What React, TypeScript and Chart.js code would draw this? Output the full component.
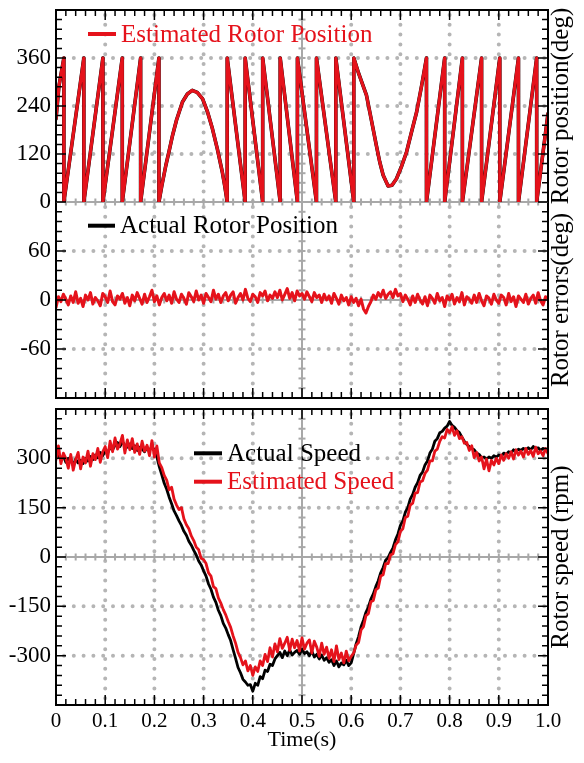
import React, { useEffect, useRef } from 'react';
import { Chart, registerables } from 'chart.js';

Chart.register(...registerables);

const SERIF = '"Liberation Serif", "Times New Roman", Times, serif';
const RED = '#e5121b';
const BLACK = '#000000';
const GRID = '#b5b5b5';
const ZERO = '#a8a8a8';

// ---- ticks ----
const timeTicks = [0, 0.1, 0.2, 0.3, 0.4, 0.5, 0.6, 0.7, 0.8, 0.9, 1.0];
const timeTickLabels = ['0', '0.1', '0.2', '0.3', '0.4', '0.5', '0.6', '0.7', '0.8', '0.9', '1.0'];
const positionTicks = [0, 120, 240, 360];
const errorTicks = [-60, 0, 60];
const speedTicks = [-300, -150, 0, 150, 300];

// ---- rotor position (deg), vertices ----
const positionTimes = [0, 0.006, 0.016, 0.016, 0.0566, 0.0566, 0.0953, 0.0953, 0.1347, 0.1347, 0.172, 0.172, 0.2092, 0.2092,
  0.215, 0.223, 0.23, 0.237, 0.245, 0.257, 0.267, 0.277, 0.287, 0.298, 0.308, 0.318, 0.328, 0.338, 0.343, 0.348,
  0.348, 0.3845, 0.3845, 0.4201, 0.4201, 0.4557, 0.4557, 0.4907, 0.4907, 0.5294, 0.5294, 0.5687, 0.5687, 0.6053, 0.6053,
  0.615, 0.631, 0.641, 0.651, 0.658, 0.665, 0.675, 0.683, 0.692, 0.702, 0.7125, 0.722, 0.733, 0.743, 0.753,
  0.753, 0.79, 0.79, 0.826, 0.826, 0.865, 0.865, 0.902, 0.902, 0.94, 0.94, 0.977, 0.977, 1.0];
const positionValues = [208, 290, 360, 0, 360, 0, 360, 0, 360, 0, 360, 0, 360, 0,
  40, 90, 128, 167, 205, 250, 270, 279, 274, 258, 225, 183, 132, 75, 40, 0,
  360, 0, 360, 0, 360, 0, 360, 0, 360, 0, 360, 0, 360, 0, 360,
  322, 267, 205, 142, 100, 67, 40, 42, 58, 88, 125, 172, 225, 290, 360,
  0, 360, 0, 360, 0, 360, 0, 360, 0, 360, 0, 360, 0, 221];

// ---- sampled signals, one value every 5 ms from 0 to 1 s ----
const sampleStep = 0.005;

const rotorErrors = [
  -9, 4, -2, 7, 1, -6, 5, -3, 10, -4,
  2, -8, 6, 0, 9, -5, 3, -1, -7, 8,
  4, -3, 11, -2, -6, 5, 1, 8, -4, 3,
  -7, 6, -1, 9, 2, -5, 7, -3, 4, 12,
  -2, 5, -6, 3, 8, -1, 6, -4, 10, 1,
  -3, 7, 2, -5, 9, 4, -2, 11, 0, 6,
  -4, 8, 3, -2, 12, 1, 7, -3, 5, 9,
  -1, 6, 10, -4, 3, 8, 0, 13, 2, -2,
  7, 4, -3, 9, 5, 11, -1, 6, 2, 10,
  3, 12, 0, 7, 14, 2, 9, -1, 11, 5,
  8, 1, 10, 4, -2, 9, 3, 6, -3, 7,
  0, 5, -4, 8, 2, -5, 6, -1, 3, -6,
  4, -3, 2, -7, 1, -11, -16, -8, -2, 6,
  1, 9, 4, 12, 2, 7, 10, 3, 13, 5,
  8, -2, 6, 1, -6, 5, -3, 7, 0, -5,
  4, -7, 6, 2, -4, 8, -1, 3, -8, 5,
  0, 7, -5, 3, -2, 9, -6, 4, 1, -4,
  6, -3, 8, -1, -7, 5, 2, -5, 7, 0,
  -4, 6, 3, -6, 8, -2, 4, -8, 5, 1,
  -3, 7, -5, 2, 6, -4, 9, -1, -6, 4,
  2];

const actualSpeed = [
  318, 306, 296, 308, 288, 300, 292, 281, 297, 286,
  294, 284, 300, 292, 306, 296, 310, 302, 318, 308,
  322, 316, 334, 326, 340, 348, 336, 350, 340, 334,
  344, 330, 338, 324, 334, 328, 320, 334, 326, 332,
  328, 304, 274, 250, 224, 206, 182, 162, 140, 126,
  110, 96, 78, 66, 48, 36, 20, 6, -12, -24,
  -42, -58, -82, -98, -122, -138, -162, -178, -202, -216,
  -236, -254, -282, -308, -336, -352, -372, -380, -390, -388,
  -408, -384, -390, -364, -370, -344, -348, -326, -330, -310,
  -300, -290, -306, -286, -300, -282, -298, -290, -284, -296,
  -280, -294, -288, -300, -286, -304, -296, -310, -298, -314,
  -306, -320, -312, -330, -316, -334, -322, -328, -314, -330,
  -322, -294, -264, -242, -212, -192, -168, -152, -128, -112,
  -90, -72, -48, -32, -10, -2, 14, 28, 52, 70,
  96, 110, 136, 150, 176, 190, 212, 226, 248, 258,
  280, 292, 316, 328, 352, 360, 378, 382, 392, 398,
  412, 400, 394, 384, 378, 364, 352, 342, 336, 330,
  326, 316, 312, 302, 304, 298, 304, 300, 308, 304,
  310, 306, 316, 312, 320, 316, 326, 320, 328, 324,
  330, 324, 332, 326, 336, 328, 332, 324, 330, 326,
  328];

const estimatedSpeed = [
  296, 338, 284, 316, 300, 270, 312, 264, 296, 318,
  268, 304, 286, 322, 276, 314, 296, 330, 288, 320,
  336, 302, 352, 320, 362, 328, 344, 370, 316, 356,
  326, 360, 318, 344, 312, 352, 322, 340, 308, 354,
  304, 338, 286, 272, 248, 234, 204, 212, 176, 158,
  144, 150, 116, 98, 86, 64, 50, 30, 22, -4,
  -8, -20, -48, -58, -90, -96, -124, -140, -160, -176,
  -196, -214, -240, -262, -290, -306, -328, -316, -346, -330,
  -360, -334, -348, -316, -330, -296, -318, -276, -304, -264,
  -288, -248, -278, -262, -244, -284, -250, -276, -254, -286,
  -246, -280, -262, -252, -292, -256, -274, -302, -262, -296,
  -274, -308, -282, -318, -270, -312, -292, -322, -286, -316,
  -302, -292, -268, -260, -222, -212, -178, -172, -136, -132,
  -100, -94, -58, -54, -20, -20, 6, 10, 38, 46,
  78, 86, 120, 124, 158, 164, 194, 196, 228, 232,
  254, 264, 292, 292, 322, 328, 352, 366, 362, 388,
  378, 396, 370, 384, 360, 366, 346, 348, 324, 338,
  302, 318, 292, 304, 268, 298, 262, 294, 280, 300,
  284, 310, 294, 314, 300, 320, 298, 326, 310, 322,
  304, 330, 312, 324, 306, 334, 314, 322, 308, 330,
  314];

const sampled = (values: number[]) => values.map((y, i) => ({ x: Number((i * sampleStep).toFixed(3)), y }));
const positionPoints = positionTimes.map((x, i) => ({ x, y: positionValues[i] }));

type LegendItem = { text: string; color: string; lineY: number; x0: number; x1: number; tx: number };
type DecorOpts = {
  yMin: number; yMax: number; yMinor: number; yMajor: number;
  dottedY: number[]; zeroY: number | null;
  frameTop: boolean; frameBottom: boolean;
  legends: LegendItem[]; rightTitle: string;
};

function makeDecor(o: DecorOpts) {
  return {
    id: 'decor',
    beforeDatasetsDraw(chart: any) {
      const { ctx, chartArea: a, scales } = chart;
      const xs = scales.x;
      const ys = scales.y;
      ctx.save();
      ctx.strokeStyle = GRID;
      ctx.lineWidth = 4;
      ctx.lineCap = 'round';
      ctx.setLineDash([0, 9.8]);
      for (const t of timeTicks) {
        if (t === 0 || t === 1 || t === 0.5) continue;
        const px = xs.getPixelForValue(t);
        ctx.beginPath();
        ctx.moveTo(px, a.top + 5);
        ctx.lineTo(px, a.bottom);
        ctx.stroke();
      }
      for (const v of o.dottedY) {
        const py = ys.getPixelForValue(v);
        ctx.beginPath();
        ctx.moveTo(a.left + 8, py);
        ctx.lineTo(a.right, py);
        ctx.stroke();
      }
      ctx.setLineDash([]);
      ctx.lineCap = 'butt';
      ctx.strokeStyle = ZERO;
      ctx.lineWidth = 2;
      const cx = xs.getPixelForValue(0.5);
      ctx.beginPath();
      ctx.moveTo(cx, a.top);
      ctx.lineTo(cx, a.bottom);
      ctx.stroke();
      const n = Math.round((o.yMax - o.yMin) / o.yMinor);
      for (let i = 1; i < n; i++) {
        const py = ys.getPixelForValue(o.yMin + i * o.yMinor);
        ctx.beginPath();
        ctx.moveTo(cx - 3.5, py);
        ctx.lineTo(cx + 3.5, py);
        ctx.stroke();
      }
      if (o.zeroY !== null) {
        const zy = ys.getPixelForValue(o.zeroY);
        ctx.beginPath();
        ctx.moveTo(a.left, zy);
        ctx.lineTo(a.right, zy);
        ctx.stroke();
        for (let i = 1; i < 50; i++) {
          const px = xs.getPixelForValue(i * 0.02);
          ctx.beginPath();
          ctx.moveTo(px, zy - 3.5);
          ctx.lineTo(px, zy + 3.5);
          ctx.stroke();
        }
      }
      ctx.restore();
    },
    afterDatasetsDraw(chart: any) {
      const { ctx, chartArea: a, scales } = chart;
      const xs = scales.x;
      const ys = scales.y;
      ctx.save();
      ctx.strokeStyle = BLACK;
      ctx.lineWidth = 2;
      ctx.beginPath();
      ctx.moveTo(a.left, a.top);
      ctx.lineTo(a.left, a.bottom);
      ctx.moveTo(a.right, a.top);
      ctx.lineTo(a.right, a.bottom);
      if (o.frameTop) { ctx.moveTo(a.left - 1, a.top); ctx.lineTo(a.right + 1, a.top); }
      if (o.frameBottom) { ctx.moveTo(a.left - 1, a.bottom); ctx.lineTo(a.right + 1, a.bottom); }
      ctx.stroke();
      ctx.lineWidth = 1.5;
      const n = Math.round((o.yMax - o.yMin) / o.yMinor);
      for (let i = 0; i <= n; i++) {
        const v = o.yMin + i * o.yMinor;
        const major = Math.abs(v % o.yMajor) < 1e-6;
        const len = major ? 10 : 6;
        const py = ys.getPixelForValue(v);
        ctx.beginPath();
        ctx.moveTo(a.left, py);
        ctx.lineTo(a.left + len, py);
        ctx.moveTo(a.right, py);
        ctx.lineTo(a.right - len, py);
        ctx.stroke();
      }
      for (let i = 0; i <= 50; i++) {
        const px = xs.getPixelForValue(i * 0.02);
        const len = i % 5 === 0 ? 10 : 6;
        ctx.beginPath();
        if (o.frameTop) { ctx.moveTo(px, a.top); ctx.lineTo(px, a.top + len); }
        if (o.frameBottom) { ctx.moveTo(px, a.bottom); ctx.lineTo(px, a.bottom - len); }
        ctx.stroke();
      }
      for (const lg of o.legends) {
        ctx.strokeStyle = lg.color;
        ctx.lineWidth = 4;
        ctx.beginPath();
        ctx.moveTo(lg.x0, lg.lineY);
        ctx.lineTo(lg.x1, lg.lineY);
        ctx.stroke();
        ctx.fillStyle = lg.color;
        ctx.font = `25px ${SERIF}`;
        ctx.textAlign = 'left';
        ctx.textBaseline = 'alphabetic';
        ctx.fillText(lg.text, lg.tx, lg.lineY + 7.5);
      }
      ctx.fillStyle = BLACK;
      ctx.font = `25px ${SERIF}`;
      ctx.translate(568, (a.top + a.bottom) / 2);
      ctx.rotate(-Math.PI / 2);
      ctx.textAlign = 'center';
      ctx.textBaseline = 'alphabetic';
      ctx.fillText(o.rightTitle, 0, 0);
      ctx.restore();
    },
  };
}

function yScale(min: number, max: number, ticks: number[]) {
  return {
    type: 'linear',
    min,
    max,
    position: 'left',
    grid: { display: false, drawTicks: false },
    border: { display: false },
    afterBuildTicks: (s: any) => { s.ticks = ticks.map((v) => ({ value: v })); },
    afterFit: (s: any) => { s.width = 56; s.paddingTop = 0; s.paddingBottom = 0; },
    ticks: { padding: 5, color: BLACK, font: { family: SERIF, size: 23 }, callback: (v: any) => String(v) },
  };
}

const hiddenX = { type: 'linear', min: 0, max: 1, display: false };

function baseOptions(padding: any, scales: any) {
  return {
    responsive: false,
    animation: false,
    devicePixelRatio: 1,
    events: [],
    layout: { padding },
    plugins: { legend: { display: false }, tooltip: { enabled: false } },
    elements: { point: { radius: 0 }, line: { tension: 0, borderJoinStyle: 'round', borderCapStyle: 'round' } },
    scales,
  };
}

export default function App() {
  const posRef = useRef<HTMLCanvasElement>(null);
  const errRef = useRef<HTMLCanvasElement>(null);
  const spdRef = useRef<HTMLCanvasElement>(null);

  useEffect(() => {
    const posChart = new Chart(posRef.current as HTMLCanvasElement, {
      type: 'line',
      data: {
        datasets: [
          { label: 'Estimated Rotor Position', data: positionPoints, borderColor: RED, borderWidth: 3.2, order: 0 },
          { label: 'Actual Rotor Position', data: positionPoints, borderColor: BLACK, borderWidth: 3.6, order: 1 },
        ],
      },
      options: baseOptions({ left: 0, right: 36, top: 10, bottom: 13 }, { x: hiddenX, y: yScale(0, 480, positionTicks) }) as any,
      plugins: [makeDecor({
        yMin: 0, yMax: 480, yMinor: 24, yMajor: 120, dottedY: [120, 240, 360], zeroY: 0,
        frameTop: true, frameBottom: false,
        legends: [{ text: 'Estimated Rotor Position', color: RED, lineY: 34, x0: 88, x1: 116, tx: 121 }],
        rightTitle: 'Rotor position(deg)',
      })],
    } as any);

    const errChart = new Chart(errRef.current as HTMLCanvasElement, {
      type: 'line',
      data: {
        datasets: [
          { label: 'Rotor errors', data: sampled(rotorErrors), borderColor: RED, borderWidth: 3 },
        ],
      },
      options: baseOptions({ left: 0, right: 36, top: 12, bottom: 12 }, { x: hiddenX, y: yScale(-120, 120, errorTicks) }) as any,
      plugins: [makeDecor({
        yMin: -120, yMax: 120, yMinor: 12, yMajor: 60, dottedY: [60, -60], zeroY: 0,
        frameTop: false, frameBottom: true,
        legends: [{ text: 'Actual Rotor Position', color: BLACK, lineY: 35.7, x0: 88, x1: 115, tx: 120 }],
        rightTitle: 'Rotor errors(deg)',
      })],
    } as any);

    const spdChart = new Chart(spdRef.current as HTMLCanvasElement, {
      type: 'line',
      data: {
        datasets: [
          { label: 'Estimated Speed', data: sampled(estimatedSpeed), borderColor: RED, borderWidth: 2.8, order: 0 },
          { label: 'Actual Speed', data: sampled(actualSpeed), borderColor: BLACK, borderWidth: 2.8, order: 1 },
        ],
      },
      options: baseOptions({ left: 0, right: 36, top: 9, bottom: 0 }, {
        x: {
          type: 'linear',
          min: 0,
          max: 1,
          position: 'bottom',
          grid: { display: false, drawTicks: false },
          border: { display: false },
          afterBuildTicks: (s: any) => { s.ticks = timeTicks.map((v) => ({ value: v })); },
          afterFit: (s: any) => { s.height = 58; s.paddingLeft = 0; s.paddingRight = 0; },
          ticks: {
            padding: 4, maxRotation: 0, autoSkip: false, color: BLACK,
            font: { family: SERIF, size: 21 },
            callback: (_v: any, i: number) => timeTickLabels[i],
          },
          title: { display: true, text: 'Time(s)', color: BLACK, font: { family: SERIF, size: 22 }, padding: { top: 0, bottom: 10 } },
        },
        y: yScale(-450, 450, speedTicks),
      }) as any,
      plugins: [makeDecor({
        yMin: -450, yMax: 450, yMinor: 30, yMajor: 150, dottedY: [300, 150, -150, -300], zeroY: 0,
        frameTop: true, frameBottom: true,
        legends: [
          { text: 'Actual Speed', color: BLACK, lineY: 53.3, x0: 194, x1: 222, tx: 227 },
          { text: 'Estimated Speed', color: RED, lineY: 81.7, x0: 194, x1: 222, tx: 227 },
        ],
        rightTitle: 'Rotor speed (rpm)',
      })],
    } as any);

    return () => {
      posChart.destroy();
      errChart.destroy();
      spdChart.destroy();
    };
  }, []);

  return (
    <div style={{ position: 'fixed', left: 0, top: 0, width: 584, height: 763, background: '#ffffff', overflow: 'hidden' }}>
      <canvas ref={errRef} width={584} height={220} style={{ position: 'absolute', left: 0, top: 190 }} />
      <canvas ref={posRef} width={584} height={215} style={{ position: 'absolute', left: 0, top: 0 }} />
      <canvas ref={spdRef} width={584} height={363} style={{ position: 'absolute', left: 0, top: 400 }} />
    </div>
  );
}
